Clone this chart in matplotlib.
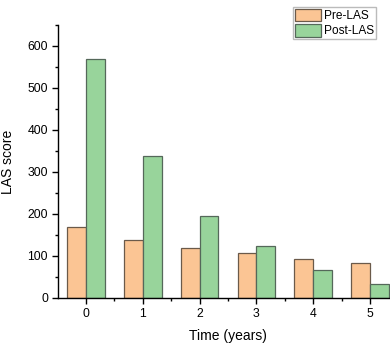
import numpy as np
from matplotlib import pyplot as plt
from matplotlib.ticker import MultipleLocator

plt.rcParams['font.family'] = ['Liberation Sans', 'DejaVu Sans']

years = [0, 1, 2, 3, 4, 5]
pre_las = [170, 138, 120, 106, 94, 84]
post_las = [570, 339, 196, 123, 66, 33]

fig = plt.figure(figsize=(3.9, 3.45), dpi=100)
# axes run a bit past the right edge, as in the cropped original
ax = fig.add_axes([58.3 / 390, 47 / 345, 340 / 390, 273 / 345])

x = np.array(years)
width = 0.33
ax.bar(x, pre_las, width=-width, align='edge', color='#FBC594',
       edgecolor='#6b5a4a', linewidth=0.9, label='Pre-LAS')
ax.bar(x, post_las, width=width, align='edge', color='#98D49B',
       edgecolor='#55685a', linewidth=0.9, label='Post-LAS')

ax.set_xlim(-0.49, 5.5)
ax.set_ylim(0, 650)
ax.set_xticks(years)
ax.xaxis.set_minor_locator(MultipleLocator(0.5))
ax.yaxis.set_major_locator(MultipleLocator(100))
ax.yaxis.set_minor_locator(MultipleLocator(50))

for side in ['top', 'right']:
    ax.spines[side].set_visible(False)
for side in ['left', 'bottom']:
    ax.spines[side].set_linewidth(1.0)

ax.tick_params(which='major', direction='out', length=4, width=1, labelsize=8.8)
ax.tick_params(which='minor', direction='out', length=2, width=1)

ax.set_xlabel('Time (years)', fontsize=10, labelpad=6)
ax.set_ylabel('LAS score', fontsize=10, labelpad=9)

fig.legend(loc='upper left', bbox_to_anchor=(293 / 390, 1 - 7 / 345),
           fontsize=8.6, frameon=True, fancybox=False, edgecolor='#bbbbbb',
           framealpha=1, borderpad=0.15, handlelength=2.2, handleheight=1.2,
           handletextpad=0.25, labelspacing=0.2, borderaxespad=0)

fig.savefig('out.png', dpi=100)
